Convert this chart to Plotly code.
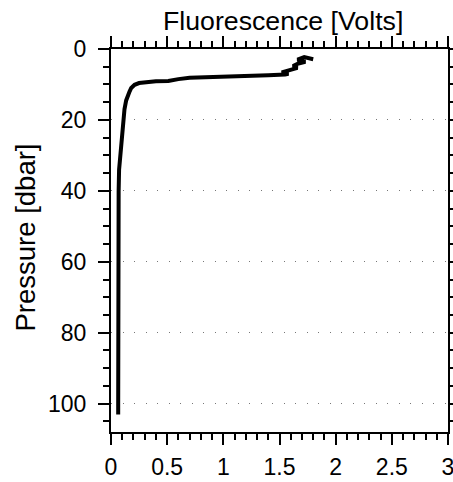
import plotly.graph_objects as go

# Profile data (fluorescence in volts vs pressure in dbar)
pressure = [2.9, 2.3, 3.0, 3.6, 4.2, 4.8, 5.3, 5.8, 6.2, 6.6, 7.0, 7.2, 7.4, 7.6, 7.9,
            8.1, 8.5, 9.0, 9.1, 9.2, 9.6, 10.1, 11.0, 12.0, 13.0, 14.5, 17.0, 20.0,
            25.0, 29.3, 34.0, 40.0, 50.0, 60.0, 70.0, 80.0, 90.0, 100.0, 103.1]
fluorescence = [1.80, 1.72, 1.66, 1.73, 1.66, 1.62, 1.66, 1.60, 1.55, 1.52, 1.58, 1.55,
                1.40, 1.19, 1.03, 0.70, 0.60, 0.51, 0.40, 0.33, 0.25, 0.21, 0.18, 0.165,
                0.15, 0.135, 0.12, 0.11, 0.095, 0.08, 0.072, 0.068, 0.066, 0.065, 0.065,
                0.064, 0.064, 0.064, 0.064]

x_ticks = [0, 0.5, 1, 1.5, 2, 2.5, 3]
x_tick_labels = ["0", "0.5", "1", "1.5", "2", "2.5", "3"]
y_ticks = [0, 20, 40, 60, 80, 100]
y_tick_labels = ["0", "20", "40", "60", "80", "100"]

title_text = "Fluorescence [Volts]"
ylabel_text = "Pressure [dbar]"

FONT = "Liberation Sans, Arial, sans-serif"

fig = go.Figure()
fig.add_trace(go.Scatter(
    x=fluorescence, y=pressure, mode="lines",
    line=dict(color="black", width=4),
    showlegend=False, hoverinfo="skip",
))

fig.update_layout(
    width=453, height=482, autosize=False,
    margin=dict(l=111, r=5, t=49, b=50, autoexpand=False),
    paper_bgcolor="white", plot_bgcolor="white",
    font=dict(family=FONT, size=24, color="black"),
    showlegend=False,
    xaxis=dict(
        range=[0, 3], tickmode="array", tickvals=x_ticks, ticktext=x_tick_labels,
        ticks="outside", ticklen=11, tickwidth=1.5, tickcolor="black",
        showline=True, linecolor="black", linewidth=2, mirror="ticks",
        showgrid=False, zeroline=False, automargin=False,
        ticklabeloverflow="allow",
        minor=dict(dtick=0.1, tick0=0, ticks="outside", ticklen=6, tickwidth=1.5,
                   tickcolor="black", showgrid=False),
        tickfont=dict(size=23), ticklabelstandoff=2,
    ),
    yaxis=dict(
        range=[108, 0], tickmode="array", tickvals=y_ticks, ticktext=y_tick_labels,
        ticks="outside", ticklen=11, tickwidth=1.5, tickcolor="black",
        showline=True, linecolor="black", linewidth=2, mirror="ticks",
        showgrid=True, gridcolor="#777777", gridwidth=1, griddash="1px,10.5px",
        zeroline=False, automargin=False, ticklabeloverflow="allow",
        minor=dict(dtick=5, tick0=0, ticks="outside", ticklen=6, tickwidth=1.5,
                   tickcolor="black", showgrid=False),
        tickfont=dict(size=23), ticklabelstandoff=7,
    ),
    annotations=[
        dict(text=title_text, xref="paper", yref="paper", x=0.5, y=1,
             xanchor="center", yanchor="bottom", yshift=11, xshift=3,
             showarrow=False, font=dict(size=26.7)),
        dict(text=ylabel_text, xref="paper", yref="paper", x=0, y=0.5,
             xanchor="center", yanchor="middle", xshift=-86, yshift=3,
             textangle=-90, showarrow=False, font=dict(size=27.5)),
    ],
)

post = ("document.body.style.margin='0';document.body.style.padding='0';"
        "document.documentElement.style.overflow='hidden';"
        "document.body.style.overflow='hidden';")

fig.write_html("out.html", post_script=post,
               config={"responsive": False, "displayModeBar": False})
